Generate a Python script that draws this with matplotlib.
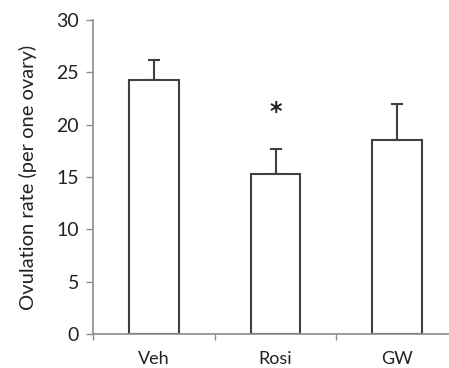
import numpy as np
import matplotlib.pyplot as plt

# Ovulation rate per group, with upper error bars
groups = ['Veh', 'Rosi', 'GW']
means = [24.3, 15.3, 18.5]
errors = [1.9, 2.4, 3.5]
star_y = 21.2

plt.rcParams['font.family'] = ['Lato', 'DejaVu Sans']

fig = plt.figure(figsize=(4.49, 3.68), dpi=100)
ax = fig.add_axes([93 / 449, 1 - 334 / 368, 365 / 449, 314 / 368])

x = np.arange(len(groups))
ax.bar(x, means, width=0.41, color='white', edgecolor='#404040', linewidth=1.5, zorder=2)
ax.errorbar(x, means, yerr=[np.zeros(len(means)), errors], fmt='none',
            ecolor='#404040', elinewidth=1.5, capsize=4.3, capthick=1.5, zorder=1)

ax.text(1, star_y, '*', ha='center', va='center', fontsize=17, fontweight='bold',
        color='#222222', family='DejaVu Sans')

ax.set_xlim(-0.5, 2.5)
ax.set_ylim(0, 30)
ax.set_yticks(range(0, 31, 5))
ax.set_xticks(x)
ax.set_xticklabels(groups, fontsize=13)
ax.set_xticks([-0.5, 0.5, 1.5, 2.5], minor=True)
ax.tick_params(axis='x', which='major', length=0, pad=12, labelcolor='#222222')
ax.tick_params(axis='x', which='minor', length=4, width=1, color='#8c8c8c', direction='out')
ax.tick_params(axis='y', length=5, width=1, color='#8c8c8c', labelsize=14, labelcolor='#222222', pad=5)
ax.set_ylabel('Ovulation rate (per one ovary)', fontsize=14.5, color='#222222', labelpad=14)

for s in ['top', 'right']:
    ax.spines[s].set_visible(False)
for s in ['left', 'bottom']:
    ax.spines[s].set_color('#8c8c8c')
    ax.spines[s].set_linewidth(1.2)

fig.savefig('out.png', dpi=100)
